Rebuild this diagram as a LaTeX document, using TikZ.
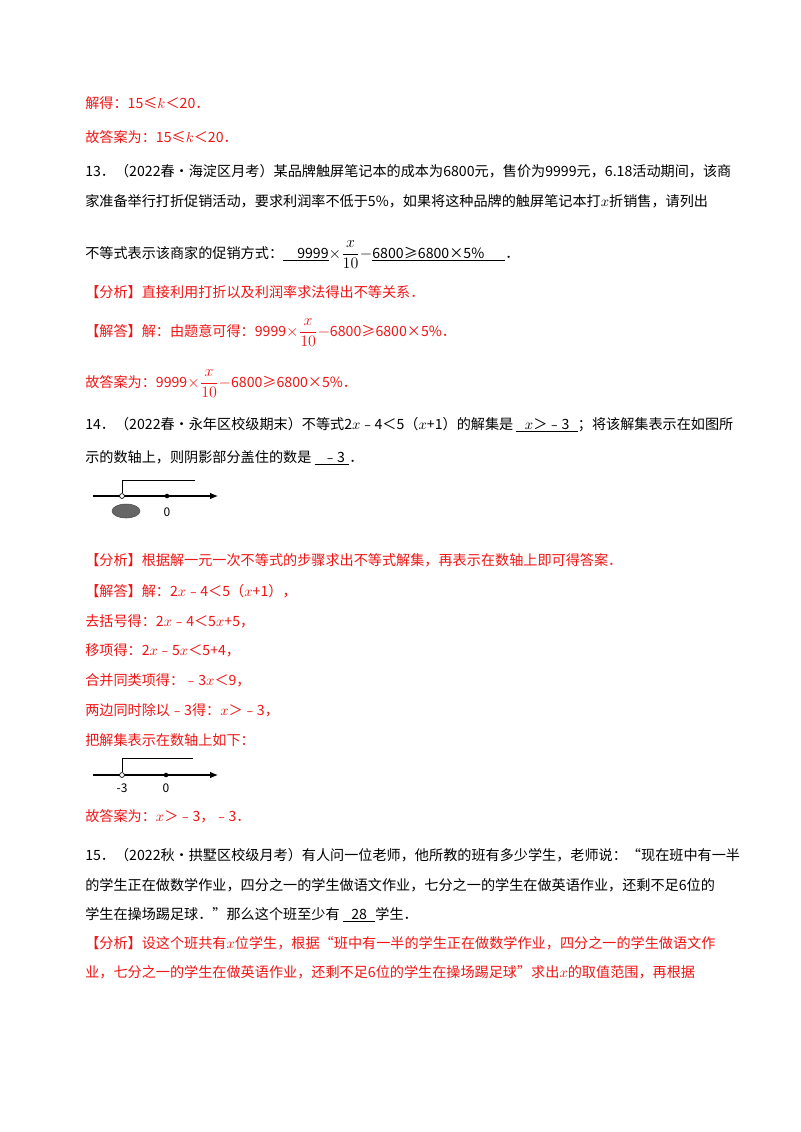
\documentclass[tikz,border=0pt]{standalone}
\usepackage{fontspec}
\setmainfont{Noto Sans CJK SC}
\usetikzlibrary{arrows.meta,shapes.geometric}
\definecolor{ansred}{RGB}{240,20,20}
\newcommand{\ul}[1]{\underline{#1}}
\newcommand{\frx}{{\fontsize{12.5pt}{14pt}\selectfont$\displaystyle\times\frac{x}{10}-$}}
\begin{document}
\begin{tikzpicture}[x=0.75pt,y=-0.75pt,
  t/.style={anchor=base west,inner sep=0pt,font=\fontsize{10.6pt}{12pt}\selectfont},
  r/.style={t,text=ansred},
  axis/.style={line width=0.8pt,-{Latex[length=6pt,width=5pt]}},
  brk/.style={line width=0.6pt}]
\useasboundingbox (0,0) rectangle (800,1132);
\node[r] (l1) at (85,108) {解得：15≤$k$＜20．};
\node[r] (l2) at (85,142) {故答案为：15≤$k$＜20．};
\node[t] (q13a) at (85,176) {13．（2022春•海淀区月考）某品牌触屏笔记本的成本为6800元，售价为9999元，6.18活动期间，该商};
\node[t] (q13b) at (85,206) {家准备举行打折促销活动，要求利润率不低于5\%，如果将这种品牌的触屏笔记本打$x$折销售，请列出};
\node[t] (q13c) at (85,258) {不等式表示该商家的促销方式：\ul{\hspace{1em}9999}\frx\ul{6800≥6800×5\%\hspace{1.5em}}．};
\node[r] (a13a) at (85,297) {【分析】直接利用打折以及利润率求法得出不等关系．};
\node[r] (a13b) at (85,336) {【解答】解：由题意可得：9999\frx6800≥6800×5\%．};
\node[r] (a13c) at (85,387) {故答案为：9999\frx6800≥6800×5\%．};
\node[t] (q14a) at (85,429) {14．（2022春•永年区校级期末）不等式2$x$﹣4＜5（$x$+1）的解集是\ \ul{\hspace{0.6em}$x$＞﹣3\hspace{0.6em}}；将该解集表示在如图所};
\node[t] (q14b) at (85,462) {示的数轴上，则阴影部分盖住的数是\ \ul{\hspace{0.6em}﹣3\hspace{0.3em}}．};
% number line 1
\coordinate (s1) at (93,496); \coordinate (e1) at (218,496);
\draw[axis] (s1) -- (e1);
\node[circle,draw,fill=white,inner sep=1.3pt,line width=0.5pt] (o1) at (122,496) {};
\node[circle,fill=black,inner sep=1.2pt] (z1) at (167,496) {};
\coordinate (c1) at (122,480); \coordinate (d1) at (195,480);
\draw[brk] (o1) -- (c1) -- (d1);
\node[ellipse,draw=black!70,fill=black!60,minimum width=21pt,minimum height=10.5pt,inner sep=0pt] (sh) at (126,511) {};
\node[font=\fontsize{9pt}{10pt}\selectfont] (n0a) at (167,512) {0};
\node[r] (a14a) at (85,565) {【分析】根据解一元一次不等式的步骤求出不等式解集，再表示在数轴上即可得答案．};
\node[r] (a14b) at (85,596) {【解答】解：2$x$﹣4＜5（$x$+1），};
\node[r] (a14c) at (85,626) {去括号得：2$x$﹣4＜5$x$+5，};
\node[r] (a14d) at (85,655) {移项得：2$x$﹣5$x$＜5+4，};
\node[r] (a14e) at (85,685) {合并同类项得：﹣3$x$＜9，};
\node[r] (a14f) at (85,715) {两边同时除以﹣3得：$x$＞﹣3，};
\node[r] (a14g) at (85,745) {把解集表示在数轴上如下：};
% number line 2
\coordinate (s2) at (93,775); \coordinate (e2) at (218,775);
\draw[axis] (s2) -- (e2);
\node[circle,draw,fill=white,inner sep=1.3pt,line width=0.5pt] (o2) at (122,775) {};
\node[circle,fill=black,inner sep=1.2pt] (z2) at (166,775) {};
\coordinate (c2) at (122,758); \coordinate (d2) at (193,758);
\draw[brk] (o2) -- (c2) -- (d2);
\node[font=\fontsize{9pt}{10pt}\selectfont] (m3) at (122,788) {-3};
\node[font=\fontsize{9pt}{10pt}\selectfont] (n0b) at (166,788) {0};
\node[r] (a14h) at (85,821) {故答案为：$x$＞﹣3，﹣3．};
\node[t] (q15a) at (85,860) {15．（2022秋•拱墅区校级月考）有人问一位老师，他所教的班有多少学生，老师说：“现在班中有一半};
\node[t] (q15b) at (85,890) {的学生正在做数学作业，四分之一的学生做语文作业，七分之一的学生在做英语作业，还剩不足6位的};
\node[t] (q15c) at (85,919) {学生在操场踢足球．”那么这个班至少有\ \ul{\hspace{0.6em}28\hspace{0.6em}}学生．};
\node[r] (a15a) at (85,948) {【分析】设这个班共有$x$位学生，根据“班中有一半的学生正在做数学作业，四分之一的学生做语文作};
\node[r] (a15b) at (85,977) {业，七分之一的学生在做英语作业，还剩不足6位的学生在操场踢足球”求出$x$的取值范围，再根据};
\end{tikzpicture}
\end{document}
